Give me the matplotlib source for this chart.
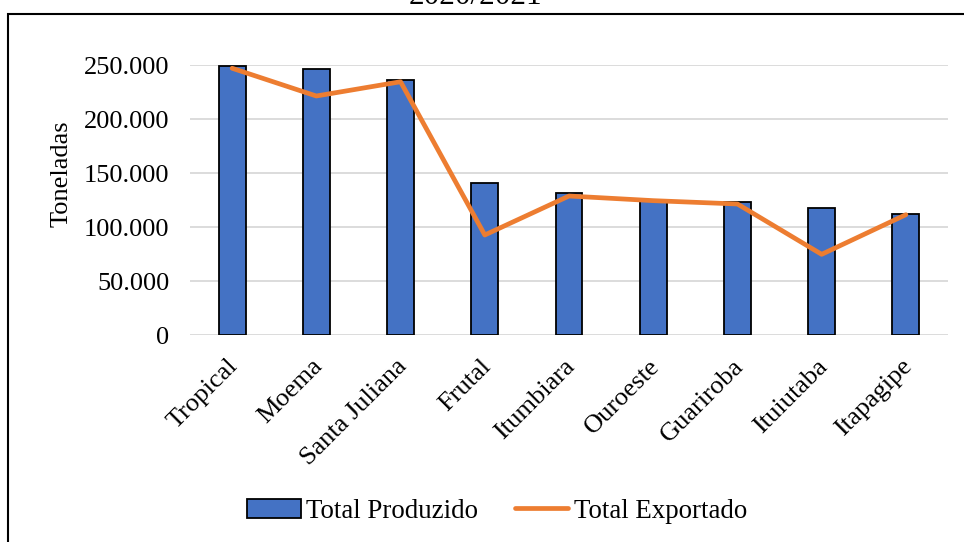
import matplotlib
matplotlib.use("Agg")
import matplotlib.pyplot as plt
from matplotlib.patches import Rectangle
from matplotlib.lines import Line2D
from matplotlib.ticker import FuncFormatter
from matplotlib.transforms import ScaledTranslation

plt.rcParams['font.family'] = ['Liberation Serif', 'DejaVu Serif']

categories = ["Tropical", "Moema", "Santa Juliana", "Frutal", "Itumbiara",
              "Ouroeste", "Guariroba", "Ituiutaba", "Itapagipe"]
produzido = [249000, 246000, 236000, 140800, 131600, 125000, 123400, 117600, 112300]
exportado = [247000, 221300, 234500, 92600, 128700, 124400, 121300, 74700, 111400]
yticks = [0, 50000, 100000, 150000, 200000, 250000]
title = "2020/2021"

FS = 19
fig = plt.figure(figsize=(9.64, 5.42), dpi=100)
ax = fig.add_axes([190/964, 1-335/542, (948-190)/964, (335-65)/542])

x = list(range(len(categories)))
ax.bar(x, produzido, width=0.32, color="#4472C4", edgecolor="black",
       linewidth=1.3, zorder=3, label="Total Produzido")
ax.plot(x, exportado, color="#ED7D31", linewidth=3.4, solid_joinstyle='round',
        solid_capstyle='round', zorder=4, label="Total Exportado")

ax.set_xlim(-0.5, len(categories) - 0.5)
ax.set_ylim(0, 250000)
ax.set_yticks(yticks)
ax.yaxis.set_major_formatter(FuncFormatter(lambda v, p: f"{int(v):,}".replace(",", ".")))
ax.grid(axis='y', color="#d9d9d9", linewidth=1.3, zorder=0)
for s in ax.spines.values():
    s.set_visible(False)
ax.tick_params(axis='y', length=0, labelsize=FS, pad=15)
ax.tick_params(axis='x', length=0, labelsize=FS, pad=8)
ax.set_xticks(x)
ax.set_xticklabels(categories, rotation=45, ha='right', rotation_mode='anchor')
off = ScaledTranslation(-5/100, -9/100, fig.dpi_scale_trans)
for lab in ax.get_xticklabels():
    lab.set_transform(lab.get_transform() + off)
ax.set_ylabel("Toneladas", fontsize=FS)
ax.yaxis.set_label_coords(-0.155, 0.597)

handles = [Rectangle((0, 0), 1, 1, facecolor="#4472C4", edgecolor="black", linewidth=1.3),
           Line2D([0], [0], color="#ED7D31", linewidth=3.4, solid_capstyle='round')]
fig.legend(handles, ["Total Produzido", "Total Exportado"], loc='center',
           bbox_to_anchor=(497/964, 1-511/542), ncol=2, frameon=False,
           fontsize=19.4, handlelength=2.0, handletextpad=0.2, columnspacing=1.35)

fig.text(475/964, 1-4/542, title, ha='center', va='baseline', fontsize=22.5)
fig.patches.append(Rectangle((8/964, -0.05), 1.1, 1-14/542+0.05, transform=fig.transFigure,
                             fill=False, edgecolor="black", linewidth=1.5))

fig.savefig("out.png", dpi=100)
